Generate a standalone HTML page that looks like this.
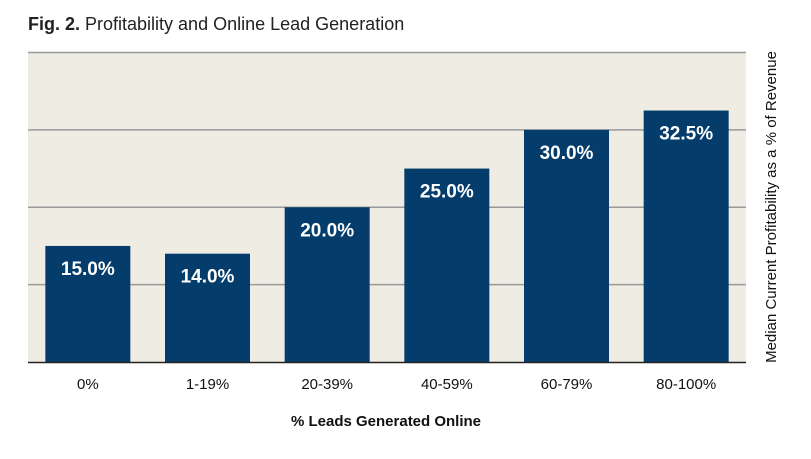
<!DOCTYPE html>
<html><head><meta charset="utf-8"><style>
body{margin:0;background:#fff;width:811px;height:454px;overflow:hidden;font-family:"Liberation Sans",sans-serif}
</style></head><body>
<svg width="811" height="454">
<text x="28" y="30" font-size="18" fill="#222"><tspan font-weight="bold">Fig. 2.</tspan> Profitability and Online Lead Generation</text>
<rect x="28" y="52" width="718" height="310" fill="#efede3"/>
<g id="grid"></g>
<g id="bars"></g>
<line x1="28" x2="746" y1="362.5" y2="362.5" stroke="#222" stroke-width="1.5"/>
<text x="386" y="426" font-size="15" font-weight="bold" text-anchor="middle" fill="#111">% Leads Generated Online</text>
<text transform="translate(776,207) rotate(-90)" font-size="15" text-anchor="middle" fill="#111">Median Current Profitability as a % of Revenue</text>
</svg>
<script>
const categories=["0%","1-19%","20-39%","40-59%","60-79%","80-100%"];
const values=[15.0,14.0,20.0,25.0,30.0,32.5];
const gridTicks=[10,20,30,40];
{
const left=28,right=746,base=362,topY=52.5,maxV=40;
const y=v=>base-(base-topY)*v/maxV;
const band=(right-left)/categories.length;
const xc=i=>left+band*(i+0.5);
const ns="http://www.w3.org/2000/svg";
const g=document.getElementById('grid'),b=document.getElementById('bars');
gridTicks.forEach(t=>{
 const l=document.createElementNS(ns,'line');
 l.setAttribute('x1',left);l.setAttribute('x2',right);l.setAttribute('y1',y(t));l.setAttribute('y2',y(t));
 l.setAttribute('stroke','#999');l.setAttribute('stroke-width','1.5');
 
 
 g.appendChild(l);
});
categories.forEach((c,i)=>{
 const w=85,v=values[i];
 const r=document.createElementNS(ns,'rect');
 r.setAttribute('x',xc(i)-w/2);r.setAttribute('y',y(v));r.setAttribute('width',w);r.setAttribute('height',base-y(v));
 r.setAttribute('fill','#043c6c');
 
 
 b.appendChild(r);
 const t=document.createElementNS(ns,'text');
 t.setAttribute('x',xc(i));t.setAttribute('y',y(v)+29);t.setAttribute('text-anchor','middle');
 t.setAttribute('fill','#fff');t.setAttribute('font-size','19');t.setAttribute('font-weight','bold');
 t.textContent=v.toFixed(1)+'%';
 
 
 b.appendChild(t);
 const xl=document.createElementNS(ns,'text');
 xl.setAttribute('x',xc(i));xl.setAttribute('y',389);xl.setAttribute('text-anchor','middle');
 xl.setAttribute('fill','#111');xl.setAttribute('font-size','15');
 xl.textContent=c;
 
 
 b.appendChild(xl);
});
}
</script>
</body></html>
